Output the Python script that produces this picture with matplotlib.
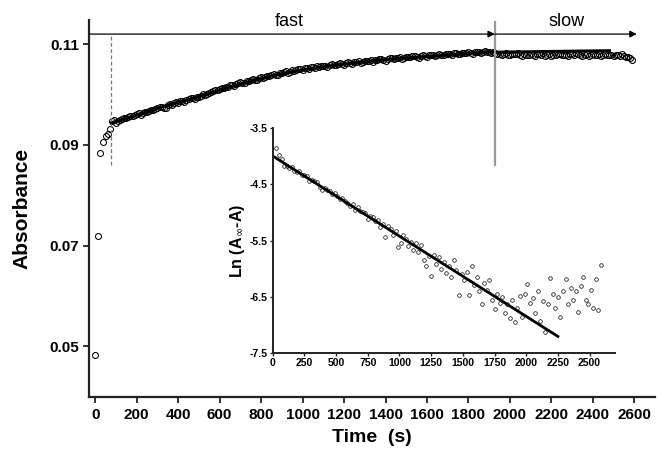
import numpy as np
import matplotlib
matplotlib.use("Agg")
import matplotlib.pyplot as plt

plt.rcParams['font.family'] = ['Liberation Sans', 'DejaVu Sans']

# main absorbance trace
t_early = [0, 11, 24, 37, 50, 60, 69]
abs_early = [0.0482, 0.0719, 0.0883, 0.0905, 0.0918, 0.0921, 0.0932]

t_main = list(range(80, 2600, 20)) + [2590]
abs_main = [
    .0947, .0944, .0950, .0953, .0955, .0958, .0961, .0959, .0966, .0968,
    .0970, .0973, .0976, .0974, .0982, .0984, .0983, .0988, .0990, .0993,
    .0992, .0995, .1001, .1002, .1005, .1009, .1010, .1013, .1015, .1019,
    .1020, .1024, .1023, .1027, .1030, .1029, .1035, .1034, .1036, .1040,
    .1039, .1043, .1046, .1044, .1047, .1050, .1049, .1052, .1055, .1052,
    .1054, .1057, .1055, .1060, .1058, .1062, .1059, .1064, .1061, .1065,
    .1063, .1067, .1066, .1064, .1069, .1071, .1067, .1072, .1070, .1073,
    .1071, .1075, .1074, .1077, .1073, .1078, .1075, .1079, .1076, .1080,
    .1078, .1081, .1079, .1083, .1080, .1082, .1084, .1081, .1085, .1083,
    .1086, .1084, .1085, .1081, .1079, .1082, .1078, .1080, .1082, .1077,
    .1079, .1081, .1077, .1080, .1082, .1078, .1076, .1079, .1081, .1078,
    .1077, .1080, .1082, .1078, .1079, .1076, .1081, .1079, .1077, .1080,
    .1079, .1076, .1078, .1080, .1075, .1073,
    .1068]

# in-between readings (odd tens of seconds)
t_mid = list(range(90, 2580, 20))
abs_mid = [
    .0949, .0948, .0952, .0954, .0957, .0960, .0963, .0964, .0965, .0969,
    .0971, .0975, .0974, .0979, .0980, .0985, .0987, .0986, .0991, .0994,
    .0995, .0998, .0999, .1004, .1007, .1008, .1012, .1014, .1018, .1017,
    .1022, .1022, .1026, .1028, .1028, .1032, .1033, .1037, .1038, .1038,
    .1042, .1044, .1043, .1048, .1048, .1051, .1053, .1051, .1054, .1056,
    .1056, .1056, .1059, .1059, .1061, .1060, .1063, .1063, .1064, .1066,
    .1065, .1066, .1068, .1068, .1070, .1069, .1071, .1072, .1072, .1074,
    .1073, .1074, .1076, .1075, .1077, .1076, .1078, .1078, .1079, .1078,
    .1080, .1080, .1082, .1081, .1082, .1083, .1082, .1084, .1084, .1084,
    .1085, .1083, .1083, .1080, .1081, .1079, .1080, .1081, .1079, .1080,
    .1078, .1079, .1080, .1079, .1077, .1080, .1078, .1080, .1079, .1079,
    .1081, .1079, .1080, .1077, .1080, .1078, .1079, .1080, .1078, .1079,
    .1078, .1079, .1077, .1077, .1074]

# fitted curves
t_fast = [77, 150, 250, 350, 450, 550, 650, 750, 850, 950,
          1050, 1150, 1250, 1350, 1450, 1550, 1650, 1750, 1850, 1925]
fit_fast = [.0944, .0952, .0966, .0979, .0990, .1002, .1015, .1026, .1037, .1045,
            .1052, .1058, .1063, .1067, .1071, .1074, .1077, .1080, .1083, .1085]
t_slow = [1925, 2480]
fit_slow = [.1084, .1087]

# inset: ln(Ainf - A)
t_ln = list(range(30, 2600, 20))
ln_val = [
    -3.86, -3.98, -4.05, -4.18, -4.17, -4.21, -4.20, -4.26, -4.28, -4.27,
    -4.33, -4.34, -4.36, -4.44, -4.42, -4.45, -4.47, -4.55, -4.60, -4.57,
    -4.61, -4.62, -4.68, -4.66, -4.71, -4.76, -4.74, -4.80, -4.83, -4.88,
    -4.86, -4.95, -4.91, -4.98, -5.00, -5.02, -5.12, -5.06, -5.09, -5.16,
    -5.14, -5.26, -5.20, -5.43, -5.25, -5.30, -5.40, -5.33, -5.62, -5.55,
    -5.40, -5.47, -5.60, -5.52, -5.66, -5.55, -5.70, -5.58, -5.84, -5.95,
    -5.78, -6.12, -5.76, -5.92, -5.80, -6.00, -5.88, -6.08, -5.96, -6.15,
    -5.84, -6.02, -6.47, -6.10, -6.20, -6.05, -6.47, -5.95, -6.28, -6.15,
    -6.40, -6.63, -6.25, -6.38, -6.20, -6.55, -6.72, -6.45, -6.60, -6.50,
    -6.78, -6.62, -6.88, -6.55, -6.94, -6.70, -6.48, -6.85, -6.44, -6.27,
    -6.60, -6.52, -6.78, -6.40, -6.92, -6.58, -7.13, -6.63, -6.16, -6.45,
    -6.70, -6.50, -6.85, -6.40, -6.19, -6.62, -6.35, -6.55, -6.40, -6.76,
    -6.30, -6.14, -6.55, -6.62, -6.38, -6.70, -6.19, -6.74, -5.94]
t_lnfit = [0, 2250]
ln_fit = [-4.0, -7.2]

t_split = 1928     # fast / slow boundary
t_dead = 77        # dashed marker
y_arrow = 0.112

fig = plt.figure(figsize=(6.57, 4.49), dpi=100)

# ---- main axes
ax = fig.add_axes([0.1355, 0.1165, 0.8615, 0.839])
ax.plot(t_early + t_main + t_mid, abs_early + abs_main + abs_mid, 'o',
        ms=4.3, mfc='none', mec='black', mew=0.75)
ax.plot(t_fast, fit_fast, '-', color='black', lw=2.2)
ax.plot(t_slow, fit_slow, '-', color='black', lw=2.2)

ax.set_xlim(-30, 2700)
ax.set_ylim(0.040, 0.1148)
ax.set_xticks(np.arange(0, 2601, 200))
ax.set_yticks([0.05, 0.07, 0.09, 0.11])
ax.set_yticklabels(['0.05', '0.07', '0.09', '0.11'])
for s in ['top', 'right']:
    ax.spines[s].set_visible(False)
for s in ['left', 'bottom']:
    ax.spines[s].set_linewidth(1.6)
    ax.spines[s].set_color('#222222')
ax.tick_params(direction='out', length=4, width=1.3, labelsize=11, pad=3,
               color='#222222')
ax.tick_params(axis='x', pad=4)
for lab in ax.get_xticklabels() + ax.get_yticklabels():
    lab.set_fontweight('bold')
ax.set_xlabel('Time  (s)', fontsize=14, fontweight='bold', labelpad=5)
ax.set_ylabel('Absorbance', fontsize=15, fontweight='bold', labelpad=13)

# fast / slow arrows and markers
ax.annotate('', xy=(t_split, y_arrow), xytext=(-30, y_arrow),
            arrowprops=dict(arrowstyle='-|>', color='black', lw=0.9,
                            mutation_scale=10, shrinkA=0, shrinkB=0))
ax.annotate('', xy=(2612, y_arrow), xytext=(t_split, y_arrow),
            arrowprops=dict(arrowstyle='-|>', color='black', lw=0.9,
                            mutation_scale=10, shrinkA=0, shrinkB=0))
ax.plot([t_split, t_split], [0.086, 0.1143], color='#999999', lw=1.6,
        clip_on=False)
ax.plot([t_dead, t_dead], [0.086, y_arrow], color='#777777', lw=0.9,
        ls=(0, (3, 2)))
ax.text(935, 0.1128, 'fast', fontsize=13, ha='center', va='bottom')
ax.text(2275, 0.1128, 'slow', fontsize=13, ha='center', va='bottom')

# ---- inset
ins = fig.add_axes([0.415, 0.213, 0.521, 0.5025])
ins.patch.set_alpha(0)
ins.plot(t_ln, ln_val, 'o', ms=2.6, mfc='none', mec='black', mew=0.5)
ins.plot(t_lnfit, ln_fit, '-', color='black', lw=2.0)
ins.set_xlim(0, 2700)
ins.set_ylim(-7.5, -3.5)
ins.set_xticks(np.arange(0, 2501, 250))
ins.set_yticks([-7.5, -6.5, -5.5, -4.5, -3.5])
ins.set_yticklabels(['-7.5', '-6.5', '-5.5', '-4.5', '-3.5'])
for s in ['top', 'right']:
    ins.spines[s].set_visible(False)
for s in ['left', 'bottom']:
    ins.spines[s].set_linewidth(1.4)
    ins.spines[s].set_color('#222222')
ins.tick_params(direction='out', length=2.5, width=1.0, labelsize=7.5, pad=1,
                color='#222222')
for lab in ins.get_xticklabels() + ins.get_yticklabels():
    lab.set_fontweight('bold')
ins.set_ylabel('Ln (A$_{\\infty}$-A)', fontsize=11.5, fontweight='bold',
               labelpad=2)

fig.savefig('out.png', dpi=100)
